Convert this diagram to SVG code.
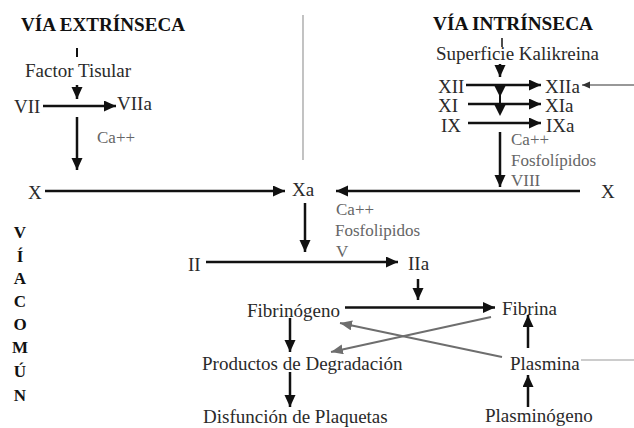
<svg xmlns="http://www.w3.org/2000/svg" width="634" height="428" viewBox="0 0 634 428">
<style>
text{font-family:"Liberation Serif","Times New Roman",serif;font-size:19px;fill:#2a2a2a}
.t{font-weight:bold;fill:#111}
.v{font-weight:bold;font-size:17px;fill:#111;text-anchor:middle}
.c{font-size:17px;fill:#666}
.a{stroke:#111;stroke-width:2.5;fill:none;marker-end:url(#ah)}
.g{stroke:#6e6e6e;stroke-width:2;fill:none;marker-end:url(#ag)}
.thin{stroke:#9a9a9a;stroke-width:1.2;fill:none}
.tk{stroke:#111;stroke-width:2;fill:none}
.head{fill:#111}
</style>
<defs>
<marker id="ah" markerUnits="userSpaceOnUse" markerWidth="14" markerHeight="12" refX="12" refY="5.5" orient="auto" viewBox="0 0 14 12">
<path d="M0,0 L12,5.5 L0,11 Z" fill="#111"/>
</marker>
<marker id="ag" markerUnits="userSpaceOnUse" markerWidth="14" markerHeight="12" refX="12" refY="5" orient="auto" viewBox="0 0 14 12">
<path d="M0,0 L12,5 L0,10 Z" fill="#6e6e6e"/>
</marker>
<marker id="as" markerUnits="userSpaceOnUse" markerWidth="10" markerHeight="8" refX="8" refY="3.5" orient="auto" viewBox="0 0 10 8">
<path d="M0,0 L8,3.5 L0,7 Z" fill="#333"/>
</marker>
</defs>

<g id="titles">
<text class="t" x="21" y="31" textLength="164" lengthAdjust="spacingAndGlyphs">VÍA EXTRÍNSECA</text>
<text class="t" x="433" y="30" textLength="160" lengthAdjust="spacingAndGlyphs">VÍA INTRÍNSECA</text>
</g>
<g id="via-comun">
<text class="v" x="20" y="238">V</text>
<text class="v" x="20" y="262">Í</text>
<text class="v" x="20" y="284">A</text>
<text class="v" x="20" y="307">C</text>
<text class="v" x="20" y="330">O</text>
<text class="v" x="20" y="353">M</text>
<text class="v" x="20" y="377">Ú</text>
<text class="v" x="20" y="401">N</text>
</g>

<g id="n-factor-tisular"><text x="25" y="77">Factor Tisular</text></g>
<g id="n-VII"><text x="14" y="113">VII</text></g>
<g id="n-VIIa"><text x="117" y="110">VIIa</text></g>
<g id="l-ca1"><text class="c" x="97" y="143">Ca++</text></g>
<g id="n-X-left"><text x="28" y="199">X</text></g>
<g id="n-Xa"><text x="292" y="196">Xa</text></g>
<g id="l-cofactors-V">
<text class="c" x="336" y="215">Ca++</text>
<text class="c" x="335" y="236">Fosfolipidos</text>
<text class="c" x="336" y="257">V</text>
</g>
<g id="n-II"><text x="188" y="271">II</text></g>
<g id="n-IIa"><text x="408" y="270">IIa</text></g>
<g id="n-fibrinogeno"><text x="247" y="317">Fibrinógeno</text></g>
<g id="n-fibrina"><text x="502" y="315">Fibrina</text></g>
<g id="n-productos"><text x="202" y="370">Productos de Degradación</text></g>
<g id="n-plasmina"><text x="510" y="370">Plasmina</text></g>
<g id="n-disfuncion"><text x="203" y="423">Disfunción de Plaquetas</text></g>
<g id="n-plasminogeno"><text x="485" y="422">Plasminógeno</text></g>
<g id="n-superficie"><text x="436" y="60">Superficie Kalikreina</text></g>
<g id="n-XII"><text x="438" y="93">XII</text></g>
<g id="n-XIIa"><text x="545" y="93">XIIa</text></g>
<g id="n-XI"><text x="438" y="112">XI</text></g>
<g id="n-XIa"><text x="545" y="112">XIa</text></g>
<g id="n-IX"><text x="441" y="132">IX</text></g>
<g id="n-IXa"><text x="546" y="132">IXa</text></g>
<g id="l-cofactors-VIII">
<text class="c" x="511" y="145">Ca++</text>
<text class="c" x="511" y="166">Fosfolípidos</text>
<text class="c" x="511" y="186">VIII</text>
</g>
<g id="n-X-right"><text x="601" y="198">X</text></g>

<g id="connectors">
<line class="thin" x1="303" y1="15" x2="303" y2="160"/>
<line class="thin" x1="581" y1="360" x2="634" y2="360"/>
<line class="tk" x1="77" y1="48" x2="77" y2="57"/>
<line class="tk" x1="502" y1="38" x2="502" y2="47" style="stroke-width:1.5"/>

<line class="a" x1="77" y1="85" x2="77" y2="99"/>
<line class="a" x1="43" y1="106" x2="116" y2="106"/>
<line class="a" x1="77" y1="117" x2="77" y2="170"/>
<line class="a" x1="45" y1="191" x2="285" y2="191"/>
<line class="a" x1="580" y1="191" x2="336" y2="191"/>
<line class="a" x1="305" y1="203" x2="305" y2="252"/>
<line class="a" x1="206" y1="262" x2="398" y2="262"/>
<line class="a" x1="418" y1="279" x2="418" y2="300"/>
<line class="a" x1="345" y1="307.5" x2="495" y2="307.5"/>
<line class="a" x1="290" y1="318" x2="290" y2="352"/>
<line class="a" x1="290" y1="372" x2="290" y2="407"/>
<line class="a" x1="528" y1="348" x2="528" y2="315"/>
<line class="a" x1="528" y1="407" x2="528" y2="375"/>

<line class="a" x1="500" y1="64" x2="500" y2="77"/>
<line class="tk" x1="500" y1="85" x2="500" y2="112"/>
<path class="head" d="M494.5,86 L505.5,86 L500,97 Z"/>
<path class="head" d="M494.5,105 L505.5,105 L500,116 Z"/>
<line class="a" x1="466" y1="85" x2="541" y2="85"/>
<line class="a" x1="468" y1="104" x2="541" y2="104"/>
<line class="a" x1="468" y1="123" x2="541" y2="123"/>
<line class="a" x1="500" y1="132" x2="500" y2="187"/>
<line x1="634" y1="85" x2="582" y2="85" stroke="#333" stroke-width="1.2" marker-end="url(#as)"/>

<line class="g" x1="491" y1="317" x2="331" y2="352"/>
<line class="g" x1="502" y1="357" x2="340" y2="323"/>
</g>
</svg>
